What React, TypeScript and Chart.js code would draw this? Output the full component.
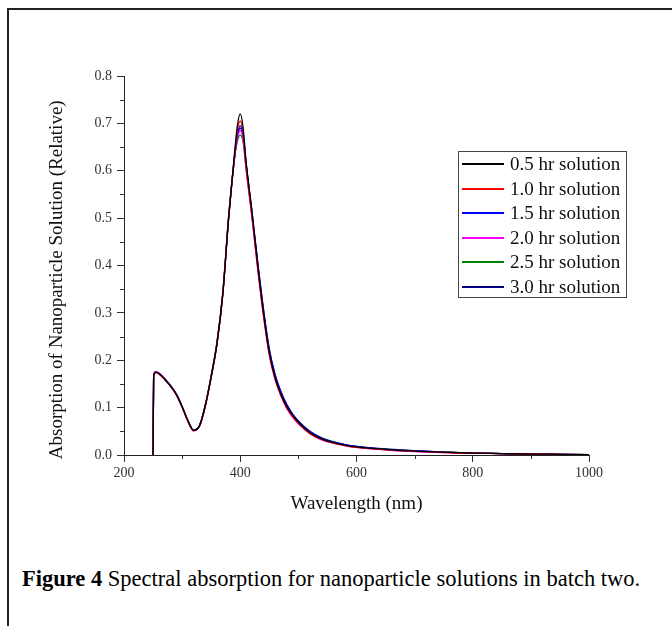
import React, { useEffect, useRef } from "react";
import { Chart, registerables } from "chart.js";
Chart.register(...registerables);

const wavelengths = [250, 251, 255, 260, 270, 280, 290, 300, 310, 320, 330, 340, 350, 360, 370, 380, 390, 395, 400, 405, 410, 420, 430, 440, 450, 460, 470, 480, 490, 500, 520, 540, 560, 580, 600, 650, 700, 750, 800, 850, 900, 950, 1000];

const series05 = [0, 0.168, 0.175, 0.172, 0.160, 0.146, 0.128, 0.102, 0.072, 0.052, 0.062, 0.105, 0.165, 0.235, 0.34, 0.50, 0.635, 0.695, 0.72, 0.69, 0.62, 0.515, 0.402, 0.300, 0.216, 0.163, 0.128, 0.102, 0.084, 0.069, 0.047, 0.034, 0.026, 0.021, 0.017, 0.012, 0.008, 0.006, 0.004, 0.003, 0.002, 0.0015, 0.001];
const series10 = [0, 0.167, 0.174, 0.171, 0.159, 0.145, 0.127, 0.101, 0.071, 0.051, 0.061, 0.104, 0.164, 0.234, 0.34, 0.50, 0.63, 0.685, 0.705, 0.68, 0.61, 0.505, 0.393, 0.293, 0.211, 0.159, 0.125, 0.099, 0.081, 0.067, 0.045, 0.033, 0.025, 0.020, 0.016, 0.011, 0.008, 0.005, 0.004, 0.003, 0.002, 0.0015, 0.001];
const series15 = [0, 0.168, 0.175, 0.172, 0.160, 0.146, 0.128, 0.102, 0.072, 0.052, 0.062, 0.105, 0.166, 0.236, 0.34, 0.50, 0.625, 0.675, 0.695, 0.675, 0.615, 0.513, 0.405, 0.305, 0.221, 0.168, 0.132, 0.105, 0.086, 0.071, 0.049, 0.035, 0.027, 0.022, 0.018, 0.012, 0.009, 0.006, 0.004, 0.003, 0.002, 0.0015, 0.001];
const series20 = [0, 0.170, 0.176, 0.173, 0.161, 0.146, 0.128, 0.101, 0.071, 0.051, 0.061, 0.104, 0.165, 0.236, 0.34, 0.50, 0.625, 0.668, 0.685, 0.665, 0.605, 0.503, 0.395, 0.295, 0.212, 0.160, 0.125, 0.099, 0.080, 0.066, 0.045, 0.032, 0.025, 0.020, 0.016, 0.011, 0.007, 0.005, 0.004, 0.003, 0.002, 0.0015, 0.001];
const series25 = [0, 0.168, 0.175, 0.172, 0.160, 0.146, 0.128, 0.102, 0.072, 0.052, 0.063, 0.107, 0.168, 0.240, 0.345, 0.505, 0.625, 0.662, 0.675, 0.66, 0.605, 0.507, 0.400, 0.301, 0.218, 0.165, 0.130, 0.103, 0.084, 0.070, 0.048, 0.034, 0.026, 0.021, 0.017, 0.012, 0.008, 0.006, 0.004, 0.003, 0.002, 0.0015, 0.001];
const series30 = [0, 0.169, 0.176, 0.173, 0.161, 0.147, 0.129, 0.103, 0.073, 0.053, 0.062, 0.105, 0.166, 0.236, 0.34, 0.50, 0.628, 0.672, 0.69, 0.672, 0.615, 0.515, 0.408, 0.308, 0.224, 0.170, 0.134, 0.107, 0.087, 0.072, 0.050, 0.036, 0.028, 0.022, 0.018, 0.013, 0.009, 0.006, 0.004, 0.003, 0.002, 0.0015, 0.001];

const seriesLabels = ["0.5 hr solution", "1.0 hr solution", "1.5 hr solution", "2.0 hr solution", "2.5 hr solution", "3.0 hr solution"];
const seriesColors = ["#000000", "#ff0000", "#0000ff", "#ff00ff", "#008000", "#000080"];
const seriesValues = [series05, series10, series15, series20, series25, series30];

const xMinorTicks = [300, 500, 700, 900];
const yMinorTicks = [0.05, 0.15, 0.25, 0.35, 0.45, 0.55, 0.65, 0.75];

const SERIF = "'Liberation Serif', 'Times New Roman', serif";
const Y_TITLE = "Absorption of Nanoparticle Solution (Relative)";

const minorTickPlugin = {
  id: "minorTicks",
  afterDraw(chart: any) {
    const { ctx, chartArea } = chart;
    const xs = chart.scales.x;
    const ys = chart.scales.y;
    ctx.save();
    ctx.strokeStyle = "#333";
    ctx.lineWidth = 1;
    ctx.beginPath();
    xMinorTicks.forEach((v) => {
      const px = Math.round(xs.getPixelForValue(v)) + 0.5;
      ctx.moveTo(px, chartArea.bottom);
      ctx.lineTo(px, chartArea.bottom + 4);
    });
    yMinorTicks.forEach((v) => {
      const py = Math.round(ys.getPixelForValue(v)) + 0.5;
      ctx.moveTo(chartArea.left, py);
      ctx.lineTo(chartArea.left - 4, py);
    });
    ctx.stroke();
    ctx.restore();
  },
};

export default function App() {
  const canvasRef = useRef<HTMLCanvasElement | null>(null);

  useEffect(() => {
    const canvas = canvasRef.current;
    if (!canvas) return;
    const chart = new Chart(canvas, {
      type: "line",
      data: {
        datasets: seriesValues.map((vals, i) => ({
          label: seriesLabels[i],
          data: wavelengths.map((w, j) => ({ x: w, y: vals[j] })),
          borderColor: seriesColors[i],
          backgroundColor: seriesColors[i],
          borderWidth: 1.3,
          pointRadius: 0,
          cubicInterpolationMode: "monotone" as const,
          fill: false,
        })),
      },
      options: {
        animation: false,
        responsive: false,
        devicePixelRatio: 1,
        layout: { padding: { left: 0, top: 76, right: 83, bottom: 0 } },
        plugins: { legend: { display: false }, tooltip: { enabled: false } },
        scales: {
          x: {
            type: "linear",
            min: 200,
            max: 1000,
            afterFit: (s: any) => { s.height = 85; },
            ticks: { stepSize: 200, font: { family: SERIF, size: 14 }, color: "#333", padding: 3, maxRotation: 0, callback: (v: any) => String(v) },
            grid: { display: true, drawOnChartArea: false, drawTicks: true, tickLength: 7, color: "#333" },
            border: { display: true, color: "#222", width: 1 },
            title: { display: true, text: "Wavelength (nm)", font: { family: SERIF, size: 19 }, color: "#111", padding: { top: 0, bottom: 25 } },
          },
          y: {
            type: "linear",
            min: 0,
            max: 0.8,
            afterFit: (s: any) => { s.width = 124; },
            ticks: { stepSize: 0.1, font: { family: SERIF, size: 14 }, color: "#333", padding: 5, callback: (v: any) => Number(v).toFixed(1) },
            grid: { display: true, drawOnChartArea: false, drawTicks: true, tickLength: 7, color: "#333" },
            border: { display: true, color: "#222", width: 1 },
            title: { display: true, text: Y_TITLE + "\u00a0\u00a0\u00a0\u00a0\u00a0\u00a0", font: { family: SERIF, size: 19 }, color: "#111", padding: { top: 46, bottom: 0 } },
          },
        },
      },
      plugins: [minorTickPlugin],
    });
    return () => chart.destroy();
  }, []);

  return (
    <div style={{ position: "fixed", left: 0, top: 0, width: 672, height: 626, background: "#fff", overflow: "hidden" }}>
      <div style={{ position: "absolute", left: 7, top: 8, width: 665, height: 2, background: "#222" }} />
      <div style={{ position: "absolute", left: 7, top: 8, width: 2, height: 618, background: "#222" }} />
      <canvas ref={canvasRef} width={672} height={540} style={{ position: "absolute", left: 0, top: 0, width: 672, height: 540 }} />
      <div style={{ position: "absolute", left: 458, top: 151, width: 167, height: 145, border: "1.5px solid #444", background: "#fff" }}>
        {seriesLabels.map((lab, i) => (
          <div key={lab} style={{ position: "relative", height: 24.5, display: "flex", alignItems: "center" }}>
            <div style={{ width: 42, height: 2, background: seriesColors[i], marginLeft: 3, marginRight: 6 }} />
            <span style={{ fontFamily: SERIF, fontSize: 19, lineHeight: "24.5px", color: "#111", whiteSpace: "nowrap" }}>{lab}</span>
          </div>
        ))}
      </div>
      <div style={{ position: "absolute", left: 22, top: 568, fontFamily: SERIF, fontSize: 22.5, lineHeight: "22px", color: "#000", whiteSpace: "nowrap" }}>
        <b>Figure 4</b> Spectral absorption for nanoparticle solutions in batch two.
      </div>
    </div>
  );
}
